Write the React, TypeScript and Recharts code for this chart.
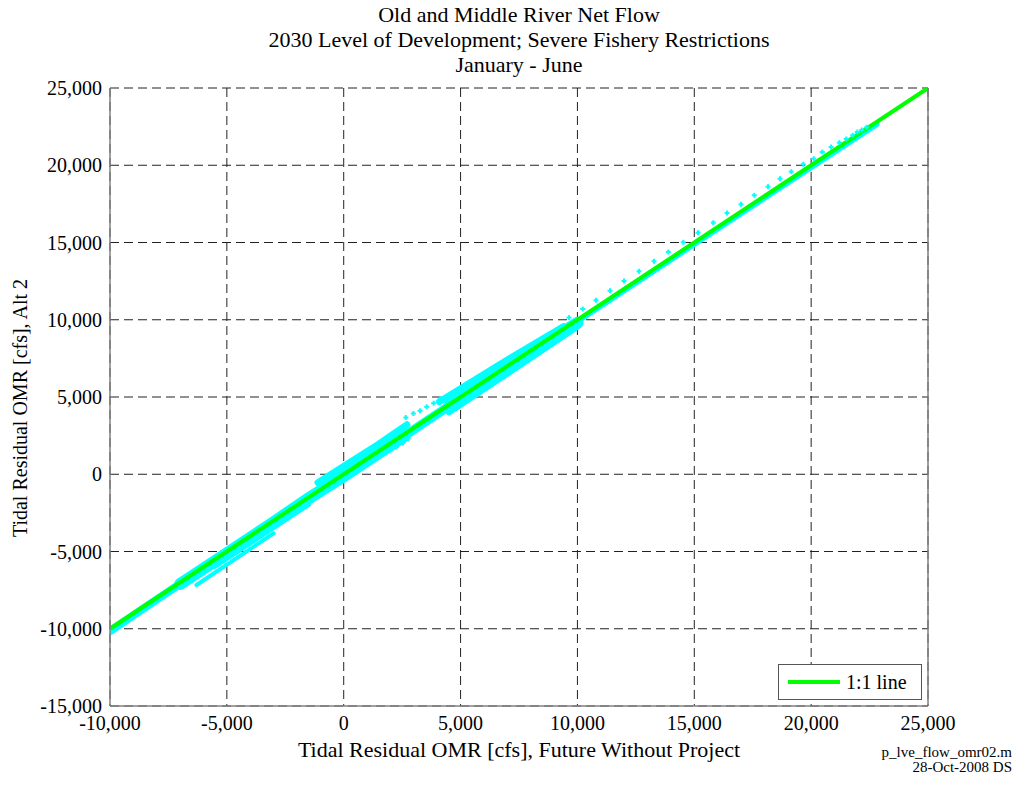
import React from 'react';
import { ComposedChart, Line, Scatter, XAxis, YAxis, CartesianGrid, ReferenceLine } from 'recharts';

const FONT = '"Liberation Serif", "Times New Roman", serif';
const CYAN = '#00ffff';
const GREEN = '#00ff00';

const xTicks = [-10000, -5000, 0, 5000, 10000, 15000, 20000, 25000];
const yTicks = [-15000, -10000, -5000, 0, 5000, 10000, 15000, 20000, 25000];

const titleLines = [
  'Old and Middle River Net Flow',
  '2030 Level of Development; Severe Fishery Restrictions',
  'January - June',
];

// 1:1 reference
const oneToOne = [
  { x: -10000, y: -10000 },
  { x: 25000, y: 25000 },
];

// dense cyan clouds, traced as thick strokes
const bandFarLeft = [
  { x: -10000, y: -10150 },
  { x: -8500, y: -8620 },
  { x: -7000, y: -7100 },
];
const bandMain = [
  { x: -7000, y: -7100 },
  { x: -5000, y: -5120 },
  { x: -3000, y: -3100 },
  { x: -1500, y: -1560 },
  { x: 0, y: -120 },
  { x: 1500, y: 1380 },
  { x: 2600, y: 2480 },
];
const bandMid = [
  { x: 2600, y: 2480 },
  { x: 3500, y: 3400 },
  { x: 4500, y: 4400 },
];
const bandUpperRight = [
  { x: 4500, y: 4400 },
  { x: 6500, y: 6380 },
  { x: 8500, y: 8350 },
  { x: 10000, y: 9800 },
];
const bandLowOffset = [
  { x: -6300, y: -7170 },
  { x: -3000, y: -3820 },
];
const bandLowInner = [
  { x: -5500, y: -5950 },
  { x: -1500, y: -1950 },
];
const bandHighNearZero = [
  { x: -1100, y: -550 },
  { x: 1500, y: 1950 },
  { x: 2700, y: 3200 },
];
const bandHighFive = [
  { x: 4100, y: 4700 },
  { x: 7000, y: 7400 },
  { x: 9400, y: 9550 },
];
const bandLowFive = [
  { x: 4500, y: 4000 },
  { x: 7000, y: 6500 },
  { x: 9950, y: 9500 },
];
const bandHigh = [
  { x: 10000, y: 9900 },
  { x: 15000, y: 14900 },
  { x: 19000, y: 18880 },
  { x: 22800, y: 22650 },
];

// isolated points
const dotsUpper = [
  { x: 9640, y: 10140 }, { x: 10226, y: 10696 }, { x: 10795, y: 11259 }, { x: 11394, y: 11880 },
  { x: 11993, y: 12508 }, { x: 12635, y: 13136 }, { x: 13277, y: 13783 }, { x: 13888, y: 14385 },
  { x: 14530, y: 15013 }, { x: 15159, y: 15634 }, { x: 15814, y: 16282 }, { x: 16400, y: 16909 },
  { x: 16999, y: 17472 }, { x: 17568, y: 18055 }, { x: 18154, y: 18612 }, { x: 18668, y: 19129 },
  { x: 19151, y: 19583 }, { x: 19665, y: 20061 }, { x: 20110, y: 20424 }, { x: 20478, y: 20858 },
  { x: 20851, y: 21181 }, { x: 21206, y: 21460 }, { x: 21505, y: 21699 }, { x: 21779, y: 21939 },
  { x: 21976, y: 22152 }, { x: 22164, y: 22282 }, { x: 22378, y: 22456 },
];
const dotsMidUpper = [
  { x: 2658, y: 3670 }, { x: 2980, y: 3932 }, { x: 3265, y: 4105 }, { x: 3550, y: 4364 },
  { x: 3850, y: 4598 }, { x: 4135, y: 4882 },
];
const dotsMidLower = [
  { x: 1680, y: 1340 }, { x: 1968, y: 1553 }, { x: 2254, y: 1768 }, { x: 2537, y: 2026 },
  { x: 2753, y: 2311 },
];

const fmt = (v: number) => v.toLocaleString('en-US');

const PlusDot = (props: any) => {
  const { cx, cy } = props;
  if (cx == null || cy == null) return <g />;
  return (
    <g>
      <rect x={cx - 2.5} y={cy - 1} width={5} height={2} fill={CYAN} />
      <rect x={cx - 1} y={cy - 2.5} width={2} height={5} fill={CYAN} />
    </g>
  );
};

const bands: { data: any[]; w: number }[] = [
  { data: bandFarLeft, w: 8 },
  { data: bandMain, w: 12 },
  { data: bandMid, w: 9 },
  { data: bandUpperRight, w: 12 },
  { data: bandLowOffset, w: 4 },
  { data: bandLowInner, w: 5 },
  { data: bandHighNearZero, w: 7 },
  { data: bandHighFive, w: 7 },
  { data: bandLowFive, w: 6 },
  { data: bandHigh, w: 6 },
];

export default function App() {
  const tickStyle = { fontFamily: FONT, fontSize: 20, fill: '#000' };
  return (
    <div style={{ position: 'absolute', left: 0, top: 0, width: 1018, height: 786, background: '#fff', fontFamily: FONT }}>
      <div style={{ position: 'absolute', left: 110, top: 2, width: 818, textAlign: 'center', fontSize: 22, lineHeight: '25px' }}>
        {titleLines.map((t) => (
          <div key={t}>{t}</div>
        ))}
      </div>

      <ComposedChart width={1018} height={786} margin={{ top: 88, right: 90, bottom: 0, left: 0 }}>
        <CartesianGrid stroke="#222" strokeDasharray="9 5" />
        <XAxis
          type="number"
          dataKey="x"
          domain={[-10000, 25000]}
          ticks={xTicks}
          tickFormatter={fmt}
          height={80}
          tickSize={0}
          tickMargin={10}
          tick={tickStyle}
          axisLine={{ stroke: '#808080', strokeWidth: 1.5 }}
          allowDataOverflow
        />
        <YAxis
          type="number"
          dataKey="y"
          domain={[-15000, 25000]}
          ticks={yTicks}
          tickFormatter={fmt}
          width={110}
          tickSize={0}
          tickMargin={8}
          tick={tickStyle}
          axisLine={{ stroke: '#808080', strokeWidth: 1.5 }}
          allowDataOverflow
        />
        {bands.map((b, i) => (
          <Line
            key={'band' + i}
            data={b.data}
            dataKey="y"
            type="linear"
            stroke={CYAN}
            strokeWidth={b.w}
            strokeLinecap="round"
            dot={false}
            activeDot={false}
            isAnimationActive={false}
          />
        ))}
        <Scatter data={dotsUpper} shape={PlusDot} isAnimationActive={false} />
        <Scatter data={dotsMidUpper} shape={PlusDot} isAnimationActive={false} />
        <Scatter data={dotsMidLower} shape={PlusDot} isAnimationActive={false} />
        <Line
          data={oneToOne}
          dataKey="y"
          type="linear"
          stroke={GREEN}
          strokeWidth={4}
          dot={false}
          activeDot={false}
          isAnimationActive={false}
        />
        <ReferenceLine x={25000} stroke="#808080" strokeWidth={1.5} />
      </ComposedChart>

      <div
        style={{
          position: 'absolute',
          left: 8,
          top: 408,
          transform: 'translate(-50%, -50%) rotate(-90deg)',
          transformOrigin: 'center',
          marginLeft: 12,
          whiteSpace: 'nowrap',
          fontSize: 20,
          lineHeight: '22px',
        }}
      >
        Tidal Residual OMR [cfs], Alt 2
      </div>

      <div style={{ position: 'absolute', left: 110, top: 738, width: 818, textAlign: 'center', fontSize: 22, lineHeight: '24px', whiteSpace: 'nowrap' }}>
        Tidal Residual OMR [cfs], Future Without Project
      </div>

      <div style={{ position: 'absolute', right: 6, top: 745, textAlign: 'right', fontSize: 15, lineHeight: '15px' }}>
        <div>p_lve_flow_omr02.m</div>
        <div>28-Oct-2008 DS</div>
      </div>

      <div
        style={{
          position: 'absolute',
          left: 778,
          top: 664,
          width: 142,
          height: 34,
          border: '1px solid #555',
          background: '#fff',
          boxSizing: 'content-box',
        }}
      >
        <div style={{ position: 'absolute', left: 9, top: 15, width: 52, height: 4, background: GREEN }} />
        <div style={{ position: 'absolute', left: 67, top: 5, fontSize: 20, lineHeight: '24px' }}>1:1 line</div>
      </div>
    </div>
  );
}
